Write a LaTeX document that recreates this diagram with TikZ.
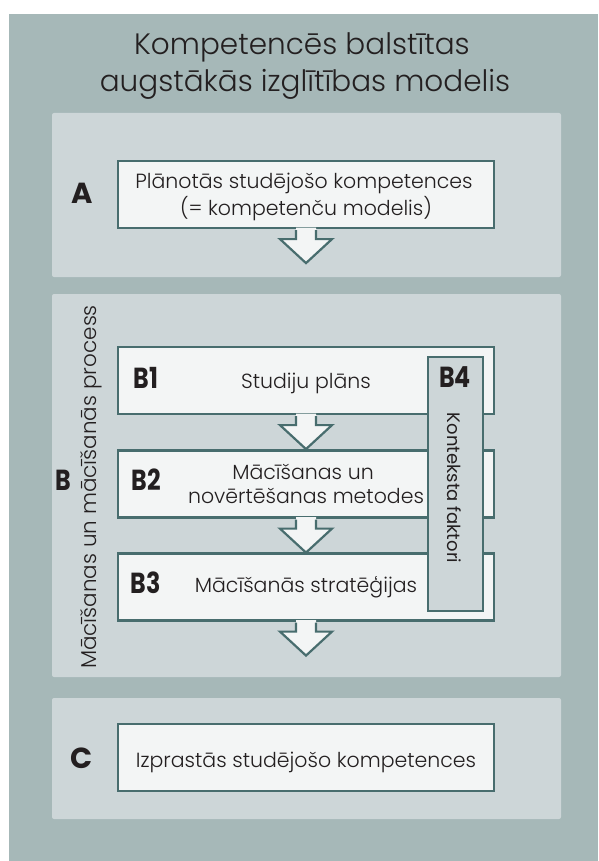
\documentclass[tikz,border=0pt]{standalone}
\usepackage{fontspec}
\setmainfont{Poppins}
\newfontfamily\lightfont{Poppins Light}
\newfontfamily\condfont{Poppins}[FakeStretch=0.82]
\definecolor{outerbg}{HTML}{A6B8B8}
\definecolor{panelbg}{HTML}{CDD6D8}
\definecolor{boxbg}{HTML}{F3F5F5}
\definecolor{boxline}{HTML}{486D6E}
\definecolor{txt}{HTML}{231F20}
\newcommand{\flowarrow}[1]{%
  \fill[boxbg] ([xshift=-10pt,yshift=1.5pt]#1.south) -- ([xshift=-10pt,yshift=-10pt]#1.south) -- ([xshift=-26pt,yshift=-10pt]#1.south) -- ([yshift=-34pt]#1.south) -- ([xshift=26pt,yshift=-10pt]#1.south) -- ([xshift=10pt,yshift=-10pt]#1.south) -- ([xshift=10pt,yshift=1.5pt]#1.south) -- cycle;
  \draw[boxline, line width=2.2pt, line join=miter] ([xshift=-10pt,yshift=-1.1pt]#1.south) -- ([xshift=-10pt,yshift=-10pt]#1.south) -- ([xshift=-26pt,yshift=-10pt]#1.south) -- ([yshift=-34pt]#1.south) -- ([xshift=26pt,yshift=-10pt]#1.south) -- ([xshift=10pt,yshift=-10pt]#1.south) -- ([xshift=10pt,yshift=-1.1pt]#1.south);
}
\begin{document}
\begin{tikzpicture}[x=1pt,y=-1pt,
  panel/.style={fill=panelbg, rounded corners=2pt, draw=none, inner sep=0pt, minimum width=509pt},
  stepbox/.style={fill=boxbg, draw=boxline, line width=2.2pt, inner sep=0pt, minimum width=376pt, minimum height=67pt},
  sidebox/.style={fill=panelbg, draw=boxline, line width=2.2pt, inner sep=0pt, minimum width=55pt, minimum height=254pt},
  lbl/.style={text=txt, font=\fontsize{29}{32}\selectfont\bfseries, inner sep=0pt, anchor=base},
  blbl/.style={text=txt, font=\fontsize{29}{32}\selectfont\condfont\bfseries, inner sep=0pt, anchor=base},
  boxtext/.style={text=txt, inner sep=0pt, anchor=base, font=\fontsize{20.5}{24}\selectfont\lightfont},
  plain/.style={text=txt, inner sep=0pt, align=center}
]
\useasboundingbox (0,0) rectangle (598,861);
\fill[outerbg] (9,14) rectangle (598,861);

% title
\node[boxtext, font=\fontsize{29.5}{37}\selectfont\lightfont] (title1) at (302,55) {Kompetencēs balstītas};
\node[boxtext, font=\fontsize{29.5}{37}\selectfont\lightfont] (title2) at (305,92) {augstākās izglītības modelis};

% panels
\node[panel, minimum height=164pt] (PA) at (306.5,195) {};
\node[panel, minimum height=383pt] (PB) at (306.5,485.5) {};
\node[panel, minimum height=121pt] (PC) at (306.5,758.5) {};

% A
\node[stepbox] (A) at (306,194.5) {};
\flowarrow{A}
\node[boxtext] (ta1) at (304,189) {Plānotās studējošo kompetences};
\node[boxtext] (ta2) at (306,215) {(= kompetenču modelis)};
\node[lbl] (la) at (82,204) {A};

% B
\node[stepbox] (B1) at (306,380.5) {};
\node[stepbox] (B2) at (306,484) {};
\node[stepbox] (B3) at (306,587) {};
\flowarrow{B1}
\flowarrow{B2}
\flowarrow{B3}
\node[boxtext] (t1) at (306,388) {Studiju plāns};
\node[boxtext] (t2a) at (303,479) {Mācīšanas un};
\node[boxtext] (t2b) at (306,503) {novērtēšanas metodes};
\node[boxtext] (t3) at (306,592) {Mācīšanās stratēģijas};
\node[blbl] (lb1) at (146,388) {B1};
\node[blbl] (lb2) at (146,490) {B2};
\node[blbl] (lb3) at (146,593) {B3};
\node[blbl] (lb) at (63,490) {B};
\node[plain, rotate=90, font=\fontsize{21.5}{24}\selectfont\lightfont] (proc) at (91,487) {Mācīšanas un mācīšanās process};

\node[sidebox] (B4) at (455.5,484) {};
\node[blbl] (lb4) at (455,387) {B4};
\node[plain, rotate=-90, font=\fontsize{18}{24}\selectfont] (kf) at (454,488) {Konteksta faktori};

% C
\node[stepbox] (C) at (306,757.5) {};
\node[boxtext] (tc) at (306,767) {Izprastās studējošo kompetences};
\node[lbl] (lc) at (82,768) {C};
\end{tikzpicture}
\end{document}
